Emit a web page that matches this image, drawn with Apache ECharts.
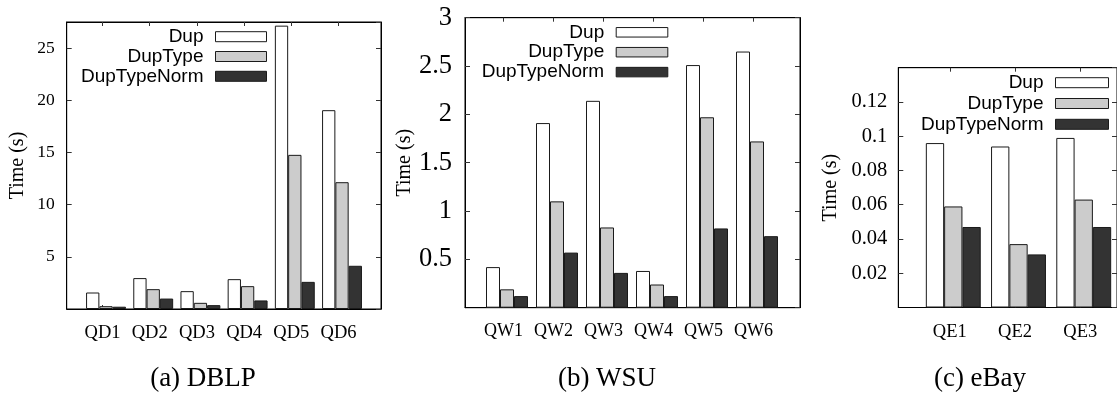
<!DOCTYPE html>
<html><head><meta charset="utf-8">
<script src="https://cdn.jsdelivr.net/npm/echarts@6/dist/echarts.min.js"></script>
<style>html,body{margin:0;padding:0;background:#fff}#c{width:1117px;height:394px}</style>
</head><body><div id="c"></div>
<script>
const seriesNames = ['Dup', 'DupType', 'DupTypeNorm'];

const dblpCategories = ['QD1', 'QD2', 'QD3', 'QD4', 'QD5', 'QD6'];
const dblpDup = [1.58, 2.96, 1.71, 2.86, 27.15, 19.05];
const dblpDupType = [0.27, 1.90, 0.59, 2.19, 14.77, 12.15];
const dblpDupTypeNorm = [0.22, 1.00, 0.37, 0.82, 2.60, 4.14];

const wsuCategories = ['QW1', 'QW2', 'QW3', 'QW4', 'QW5', 'QW6'];
const wsuDup = [0.42, 1.91, 2.14, 0.38, 2.51, 2.65];
const wsuDupType = [0.19, 1.10, 0.83, 0.24, 1.97, 1.72];
const wsuDupTypeNorm = [0.12, 0.57, 0.36, 0.12, 0.82, 0.74];

const ebayCategories = ['QE1', 'QE2', 'QE3'];
const ebayDup = [0.096, 0.094, 0.099];
const ebayDupType = [0.059, 0.037, 0.063];
const ebayDupTypeNorm = [0.047, 0.031, 0.047];

const captions = ['(a) DBLP', '(b) WSU', '(c) eBay'];
const yTitle = 'Time (s)';

const colors = ['#ffffff', '#cccccc', '#333333'];
const SERIF = '"Liberation Serif", "Times New Roman", serif';
const SANS = '"Liberation Sans", Arial, sans-serif';

const panels = [
  { cats: dblpCategories, vals: [dblpDup, dblpDupType, dblpDupTypeNorm],
    grid: { left: 66.7, top: 22, width: 314.3, height: 287 },
    xMin: -0.833, xMax: 5.826, yMax: 27.5, yInt: 5, showMax: false,
    barW: 13.3, shift: 0.074, yFont: 17.5, xFont: 18.5, nameGap: 39, yMargin: 12,
    legend: { right: 850, top: 27.2, gap: 0.8, w: 51, h: 10 },
    cap: { x: 203, y: 379 } },
  { cats: wsuCategories, vals: [wsuDup, wsuDupType, wsuDupTypeNorm],
    grid: { left: 465, top: 17.7, width: 335, height: 290 },
    xMin: -0.84, xMax: 5.86, yMax: 3, yInt: 0.5, showMax: true,
    barW: 14, shift: 0.07, yFont: 26.5, xFont: 18, nameGap: 50, yMargin: 13,
    legend: { right: 448.7, top: 22.8, gap: 0.9, w: 51.6, h: 9.5 },
    cap: { x: 607, y: 379 } },
  { cats: ebayCategories, vals: [ebayDup, ebayDupType, ebayDupTypeNorm],
    grid: { left: 898.3, top: 67.7, width: 219.7, height: 239.8 },
    xMin: -0.843, xMax: 2.51, yMax: 0.14, yInt: 0.02, showMax: false,
    barW: 18.3, shift: 0.053, yFont: 20.5, xFont: 18.5, nameGap: 58, yMargin: 11,
    legend: { right: 8, top: 73.2, gap: 1.8, w: 53, h: 10 },
    cap: { x: 980, y: 379 } }
];

const grid = [], xAxis = [], yAxis = [], series = [], legend = [], graphic = [];
const lineStyle = { color: '#000', width: 1 };
const tickStyle = { color: '#333', width: 1 };

panels.forEach((p, pi) => {
  grid.push(Object.assign({ show: true, borderColor: '#000', borderWidth: 1, backgroundColor: 'transparent' }, p.grid));
  const tickVals = p.cats.map((c, i) => i - p.shift);
  const fmt = v => p.cats[Math.round(v + p.shift)];
  xAxis.push({
    type: 'value', gridIndex: pi, position: 'bottom', min: p.xMin, max: p.xMax,
    splitLine: { show: false },
    axisLine: { show: true, onZero: false, lineStyle },
    axisTick: { show: true, inside: true, length: 4, customValues: tickVals, lineStyle: tickStyle },
    axisLabel: { show: true, customValues: tickVals, formatter: fmt, margin: 15,
      fontFamily: SERIF, fontSize: p.xFont, color: '#000' }
  });
  xAxis.push({
    type: 'value', gridIndex: pi, position: 'top', min: p.xMin, max: p.xMax,
    splitLine: { show: false },
    axisLine: { show: true, onZero: false, lineStyle },
    axisTick: { show: true, inside: true, length: 4, customValues: tickVals, lineStyle: tickStyle },
    axisLabel: { show: false }
  });
  yAxis.push({
    type: 'value', gridIndex: pi, position: 'left', min: 0, max: p.yMax, interval: p.yInt,
    splitLine: { show: false },
    axisLine: { show: true, onZero: false, lineStyle },
    axisTick: { show: true, inside: true, length: 5, lineStyle: tickStyle },
    axisLabel: { showMinLabel: false, showMaxLabel: p.showMax, margin: p.yMargin,
      fontFamily: SERIF, fontSize: p.yFont, color: '#000' },
    name: yTitle, nameLocation: 'middle', nameGap: p.nameGap,
    nameTextStyle: { fontFamily: SERIF, fontSize: 20, color: '#000' }
  });
  yAxis.push({
    type: 'value', gridIndex: pi, position: 'right', min: 0, max: p.yMax, interval: p.yInt,
    splitLine: { show: false },
    axisLine: { show: true, onZero: false, lineStyle },
    axisTick: { show: true, inside: true, length: 5, lineStyle: tickStyle },
    axisLabel: { show: false }
  });
  p.vals.forEach((arr, si) => {
    series.push({
      type: 'bar', name: seriesNames[si], xAxisIndex: pi * 2, yAxisIndex: pi * 2,
      barWidth: p.barW, barGap: '0%',
      data: arr.map((v, i) => [i, v]),
      itemStyle: { color: colors[si], borderColor: '#1a1a1a', borderWidth: 1 },
      emphasis: { disabled: true }, animation: false
    });
  });
  legend.push({
    data: seriesNames, orient: 'vertical', align: 'right', right: p.legend.right, top: p.legend.top,
    itemGap: p.legend.gap, itemWidth: p.legend.w, itemHeight: p.legend.h, padding: 0,
    icon: 'rect', selectedMode: false,
    itemStyle: { borderColor: '#1a1a1a', borderWidth: 1 },
    textStyle: { fontFamily: SANS, fontSize: 19, color: '#000', padding: [0, 7, 0, 0] }
  });
  graphic.push({
    type: 'text', x: p.cap.x, y: p.cap.y,
    style: { text: captions[pi], fontFamily: SERIF, fontSize: 27, fill: '#000', align: 'center', verticalAlign: 'middle' }
  });
});

const chart = echarts.init(document.getElementById('c'), null, { renderer: 'canvas' });
chart.setOption({ animation: false, backgroundColor: '#fff', grid, xAxis, yAxis, series, legend, graphic });
</script>
</body></html>
